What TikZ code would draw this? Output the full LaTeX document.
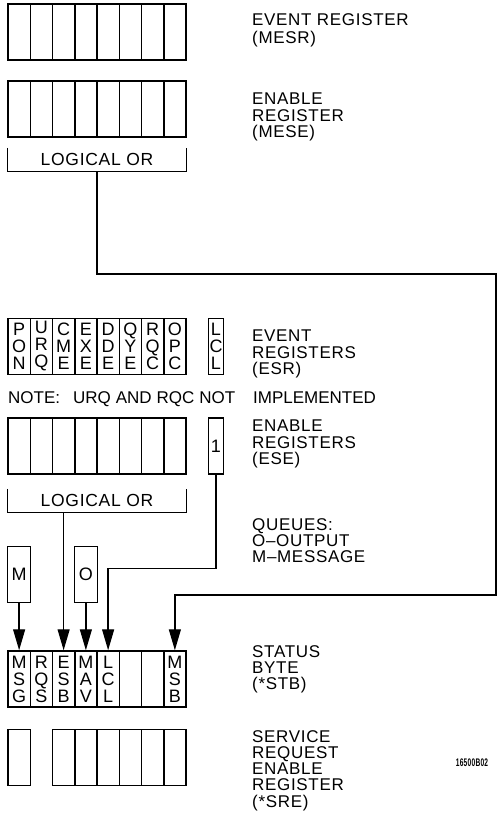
\documentclass[tikz,border=0pt]{standalone}
\usepackage{fontspec}
\setmainfont[LetterSpace=4]{Liberation Sans}
\newfontfamily\notefont{Liberation Sans}
\usepackage{graphicx}
\usepackage{tikz}
\usetikzlibrary{arrows.meta,calc}

\tikzset{
  cell/.style={draw, line width=1.5pt, minimum width=22.25pt, minimum height=56pt, inner sep=0pt, align=center, font=\fontsize{18}{17}\selectfont},
  lbl/.style={anchor=north west, inner sep=0pt, align=left, font=\fontsize{17}{16.3}\selectfont},
  orbox/.style={minimum width=178pt, minimum height=23pt, inner sep=0pt, font=\fontsize{17.5}{17}\selectfont},
  arr/.style={line width=1.3pt, -{Triangle[length=21pt,width=12pt]}},
  wire/.style={line width=1.3pt}
}
% one register: name, y centre, first cell, last cell
\newcommand{\blankrow}[4]{\foreach \i in {#3,...,#4} \node[cell] (#1\i) at ({19.125+22.25*\i},#2) {};}
% one register with a bit name in every cell
\newcommand{\bitrow}[3]{\foreach \txt [count=\i from 0] in {#3} \node[cell] (#1\i) at ({19.125+22.25*\i},#2) {\txt};}

\begin{document}
\begin{tikzpicture}[x=1pt, y=-1pt]
\useasboundingbox (0,0) rectangle (498,815);

% master summary registers
\blankrow{mesr}{32}{0}{7}
\blankrow{mese}{109}{0}{7}
\node[lbl] (mesrlbl) at (252,13) {EVENT REGISTER\\[2pt](MESR)};
\node[lbl] (meselbl) at (252,93) {ENABLE\\REGISTER\\(MESE)};
\node[orbox] (or1) at (97,159.5) {LOGICAL OR};
\draw[wire] (or1.north west) |- (or1.south east) -- (or1.north east);

% standard event registers
\bitrow{esr}{346.5}{P\\O\\N, U\\R\\Q, C\\M\\E, E\\X\\E, D\\D\\E, Q\\Y\\E, R\\Q\\C, O\\P\\C}
\node[cell, minimum width=15pt] (lcl) at (216,346.5) {L\\C\\L};
\node[lbl] (esrlbl) at (252,330) {EVENT\\REGISTERS\\(ESR)};
\node[lbl, font=\fontsize{17}{17}\notefont] (note) at (8,391) {\makebox[245pt][l]{\makebox[227pt][s]{NOTE:\hspace{8pt plus 1fill}URQ\hfill AND\hfill RQC\hfill NOT}}IMPLEMENTED};
\blankrow{ese}{446}{0}{7}
\node[cell, minimum width=15pt] (one) at (216,446) {1};
\node[lbl] (eselbl) at (252,420) {ENABLE\\REGISTERS\\(ESE)};
\node[orbox] (or2) at (97,500.5) {LOGICAL OR};
\draw[wire] (or2.north west) |- (or2.south east) -- (or2.north east);

% queues
\node[cell, minimum width=23pt] (mq) at (19.125,574.5) {M};
\node[cell, minimum width=23pt] (oq) at (85.875,574.5) {O};
\node[lbl] (qlbl) at (252,518) {QUEUES:\\O--OUTPUT\\M--MESSAGE};

% status byte and service request enable
\bitrow{stb}{679}{M\\S\\G, R\\Q\\S, E\\S\\B, M\\A\\V, L\\C\\L, \relax, \relax, M\\S\\B}
\node[lbl] (stblbl) at (252,645) {STATUS\\BYTE\\(*STB)};
\blankrow{sre}{757.5}{0}{0}
\blankrow{sre}{757.5}{2}{7}
\node[lbl] (srelbl) at (252,730) {SERVICE\\REQUEST\\ENABLE\\REGISTER\\(*SRE)};
\node (code) at (472,763) {\scalebox{0.6}[1]{\fontsize{11}{11}\selectfont\bfseries 16500B02}};

% connections
\coordinate (rt1) at (496,274);
\coordinate (rt2) at (496,595);
\draw[arr] (or1.south) |- (rt1) -- (rt2) -| (stb7.north);
\draw[arr] (one.south) -- ++(0,94) -| (stb4.north);
\draw[arr] (or2.south -| stb2.north) -- (stb2.north);
\draw[arr] (mq.south) -- (stb0.north);
\draw[arr] (oq.south) -- (stb3.north);
\end{tikzpicture}
\end{document}
